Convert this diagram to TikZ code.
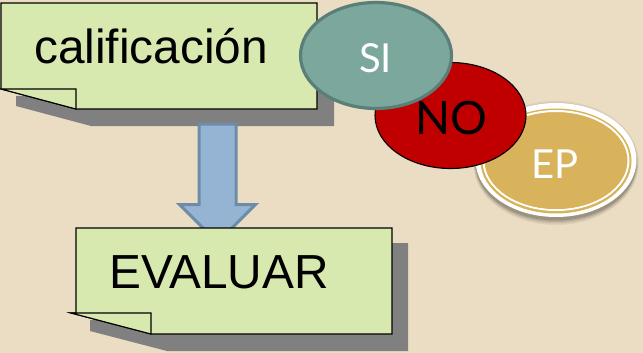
\documentclass[tikz,border=0pt]{standalone}
\usepackage{fontspec}
\setmainfont{Liberation Sans}
\newfontfamily\gill{Lato}
\definecolor{bgc}{HTML}{EBDDC3}
\definecolor{notefill}{HTML}{D8E9B0}
\definecolor{shadowc}{HTML}{808080}
\definecolor{arrowfill}{HTML}{95B3D2}
\definecolor{arrowline}{HTML}{6C8CA8}
\definecolor{sifill}{HTML}{7BA79D}
\definecolor{siline}{HTML}{5A7F78}
\definecolor{nofill}{HTML}{C00000}
\definecolor{epfill}{HTML}{D9B25C}
\tikzset{
  noteshadow/.style={fill=shadowc,draw=none},
  notebody/.style={fill=notefill,draw=black,line width=1.1pt,line join=miter},
  notetext/.style={anchor=base west,inner sep=0pt,font=\fontsize{47.8}{50}\selectfont,text=black},
  bubbletext/.style={anchor=base,inner sep=0pt,text=white,font=\gill\fontsize{40}{44}\selectfont},
}
\begin{document}
\begin{tikzpicture}[x=1pt,y=-1pt]
\useasboundingbox (0,0) rectangle (643,353);
\fill[bgc] (0,0) rectangle (643,353);
% first note
\fill[noteshadow] (16,96) -- (16,106) -- (91,126) -- (334,126) -- (334,20) -- (317,20) -- (317,96) -- cycle;
\draw[notebody] (1,3) -- (317,3) -- (317,109) -- (76,109) -- (1,89) -- cycle;
\draw[notebody] (1,89) -- (76,89) -- (76,109) -- cycle;
\node[notetext] (cal) at (34,64) {calificación};
% arrow
\draw[fill=arrowfill,draw=arrowline,line width=3pt,line join=miter]
  (199,124) -- (236,124) -- (236,204.5) -- (255.5,204.5) -- (217.5,242.4) -- (179.5,204.5) -- (199,204.5) -- cycle;
% second note
\fill[noteshadow] (90,320) -- (90,331) -- (167,351) -- (408,351) -- (408,243) -- (392,243) -- (392,320) -- cycle;
\draw[notebody] (76,228) -- (392,228) -- (392,334) -- (151,334) -- (71,313) -- (76,313) -- cycle;
\draw[notebody] (71,313) -- (151,313) -- (151,334) -- cycle;
\node[notetext] (eva) at (109,288) {EVALUAR};
% EP ellipse
\foreach \o/\g in {0.06/5.5,0.08/4,0.10/2.5,0.14/1}{
  \fill[black,opacity=\o] (556,163) ellipse [x radius=80+\g/2,y radius=56.5+\g];
}
\draw[fill=white,draw=none] (556,160) ellipse [x radius=80.5,y radius=57];
\fill[epfill] (556,161) ellipse [x radius=75.5,y radius=52.5];
\draw[white,line width=2pt] (556,160.5) ellipse [x radius=72.5,y radius=49.5];
\fill[epfill] (556,161) ellipse [x radius=71,y radius=48];
\node[bubbletext] (ep) at (555,178) {EP};
% NO ellipse
\draw[fill=nofill,draw=black,line width=1.1pt] (450.5,115.5) ellipse [x radius=75.5,y radius=53];
\node[bubbletext,text=black,font=\gill\fontsize{46}{50}\selectfont] (no) at (451,134) {NO};
% SI ellipse
\draw[fill=sifill,draw=siline,line width=3.2pt] (376,55.5) ellipse [x radius=75.5,y radius=53];
\node[bubbletext] (si) at (375.5,72.5) {SI};
\end{tikzpicture}
\end{document}
